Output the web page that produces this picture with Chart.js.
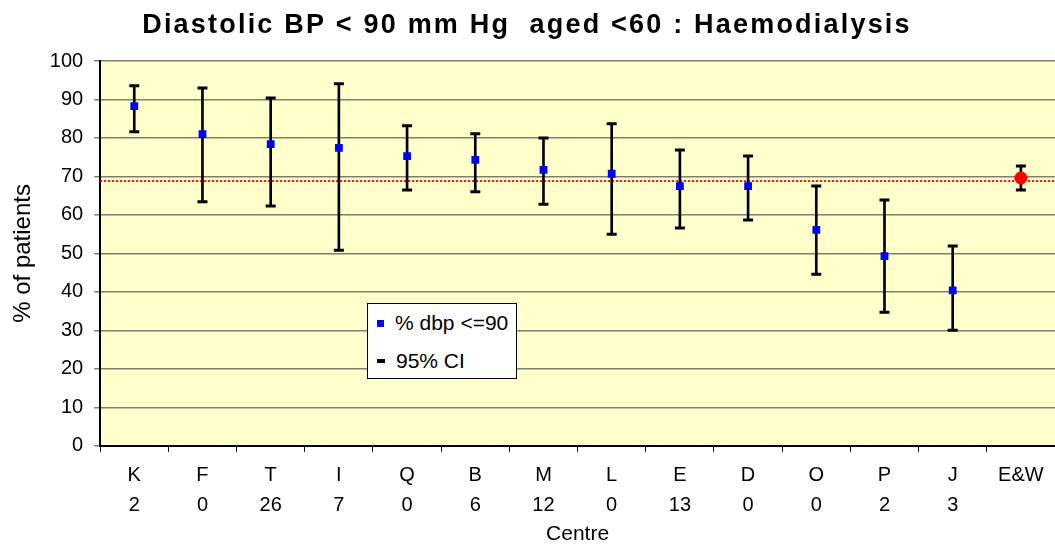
<!DOCTYPE html>
<html>
<head>
<meta charset="utf-8">
<script src="https://cdn.jsdelivr.net/npm/chart.js@4.4.1/dist/chart.umd.min.js"></script>
<style>
  body { margin: 0; background: #fff; }
  #wrap { position: relative; width: 1055px; height: 548px; }
  #legendBox {
    position: absolute; left: 367px; top: 303px; width: 148px; height: 74px;
    background: #fff; border: 1px solid #000;
    font-family: Arial, "Liberation Sans", sans-serif; font-size: 21px; color: #000;
  }
  .item { position: absolute; left: 9px; height: 24px; line-height: 24px; display: flex; align-items: center; white-space: nowrap; }
  .sw { display: inline-block; margin-right: 11px; }
</style>
</head>
<body>
<div id="wrap">
  <canvas id="dbpChart" width="1055" height="548"></canvas>
  <div id="legendBox">
    <div class="item" style="top:7px"><span class="sw" style="width:7px;height:7px;background:#0000ff"></span>% dbp &lt;=90</div>
    <div class="item" style="top:45px"><span class="sw" style="width:8px;height:4px;background:#000"></span>95% CI</div>
  </div>
</div>
<script>
const centres = ['K', 'F', 'T', 'I', 'Q', 'B', 'M', 'L', 'E', 'D', 'O', 'P', 'J', 'E&W'];
const centreCounts = ['2', '0', '26', '7', '0', '6', '12', '0', '13', '0', '0', '2', '3', ''];
const pctDbp = [88.3, 81.0, 78.4, 77.4, 75.3, 74.3, 71.7, 70.7, 67.5, 67.5, 56.1, 49.3, 40.4, 69.6];
const ciLower = [81.6, 63.4, 62.3, 50.8, 66.5, 66.0, 62.8, 55.0, 56.6, 58.7, 44.6, 34.7, 30.0, 66.5];
const ciUpper = [93.6, 93.0, 90.4, 94.1, 83.2, 81.1, 80.0, 83.7, 76.9, 75.3, 67.5, 63.9, 51.9, 72.7];
const nationalAvg = 68.8;
const yTicks = [0, 10, 20, 30, 40, 50, 60, 70, 80, 90, 100];
const chartTitle = 'Diastolic BP < 90 mm Hg  aged <60 : Haemodialysis';

const fontFamily = 'Arial, "Liberation Sans", sans-serif';

const xLabels = centres.map((c, i) => centreCounts[i] ? [c, centreCounts[i]] : [c]);
const ciRanges = ciLower.map((lo, i) => [lo, ciUpper[i]]);
const lastIdx = centres.length - 1;

const plotBackground = {
  id: 'plotBackground',
  beforeDraw(chart) {
    const {ctx, chartArea} = chart;
    ctx.save();
    ctx.fillStyle = '#ffffcc';
    ctx.fillRect(chartArea.left, chartArea.top, chartArea.right - chartArea.left, chartArea.bottom - chartArea.top);
    ctx.restore();
  }
};

const avgLine = {
  id: 'avgLine',
  beforeDatasetsDraw(chart) {
    const {ctx, chartArea, scales} = chart;
    const y = scales.y.getPixelForValue(nationalAvg);
    ctx.save();
    ctx.strokeStyle = '#ff0000';
    ctx.lineWidth = 2;
    ctx.setLineDash([2, 2]);
    ctx.beginPath();
    ctx.moveTo(chartArea.left, y);
    ctx.lineTo(chartArea.right, y);
    ctx.stroke();
    ctx.restore();
  }
};

// title drawn by hand so the letter spacing can be widened
const spacedTitle = {
  id: 'spacedTitle',
  afterDraw(chart) {
    const {ctx} = chart;
    ctx.save();
    ctx.font = 'bold 27px ' + fontFamily;
    ctx.fillStyle = '#000';
    ctx.textAlign = 'center';
    ctx.textBaseline = 'alphabetic';
    if ('letterSpacing' in ctx) ctx.letterSpacing = '2.2px';
    ctx.fillText(chartTitle, 527, 33);
    ctx.restore();
  }
};

new Chart(document.getElementById('dbpChart').getContext('2d'), {
  type: 'bar',
  data: {
    labels: xLabels,
    datasets: [
      {
        type: 'line',
        label: '% dbp <=90',
        data: pctDbp,
        showLine: false,
        pointStyle: pctDbp.map((v, i) => i === lastIdx ? 'circle' : 'rect'),
        pointRadius: pctDbp.map((v, i) => i === lastIdx ? 6.5 : 5.5),
        pointBackgroundColor: pctDbp.map((v, i) => i === lastIdx ? '#ff0000' : '#0000ff'),
        pointBorderWidth: 0,
        order: 1
      },
      {
        type: 'line',
        label: 'upper',
        data: ciUpper,
        showLine: false,
        pointStyle: 'line',
        pointRadius: 5,
        pointBorderWidth: 3,
        pointBorderColor: '#000',
        order: 2
      },
      {
        type: 'line',
        label: 'lower',
        data: ciLower,
        showLine: false,
        pointStyle: 'line',
        pointRadius: 5,
        pointBorderWidth: 3,
        pointBorderColor: '#000',
        order: 2
      },
      {
        label: '95% CI',
        data: ciRanges,
        backgroundColor: '#000',
        borderWidth: 0,
        barThickness: 2,
        order: 3
      }
    ]
  },
  options: {
    responsive: false,
    animation: false,
    layout: { autoPadding: false, padding: { left: 9, right: 0, top: 61, bottom: 1 } },
    plugins: {
      legend: { display: false },
      tooltip: { enabled: false },
      title: { display: false }
    },
    scales: {
      x: {
        offset: true,
        grid: { display: true, offset: true, drawOnChartArea: false, drawTicks: true, tickLength: 6, color: '#000' },
        border: { color: '#000', width: 2 },
        ticks: { color: '#000', font: { family: fontFamily, size: 20, lineHeight: 1.5 }, maxRotation: 0, autoSkip: false, padding: 9 },
        title: { display: true, text: 'Centre', color: '#000', font: { family: fontFamily, size: 21 }, padding: { top: -8, bottom: 0 } }
      },
      y: {
        min: 0,
        max: 100,
        afterBuildTicks(axis) { axis.ticks = yTicks.map(v => ({value: v})); },
        grid: { color: '#7f7f72', lineWidth: 1.5, drawTicks: true, tickLength: 6, tickColor: '#7f7f72' },
        border: { color: '#000', width: 2 },
        ticks: { color: '#000', font: { family: fontFamily, size: 20 }, padding: 11 },
        title: { display: true, text: '% of patients', color: '#000', font: { family: fontFamily, size: 24 }, padding: { top: 0, bottom: 1 } }
      }
    }
  },
  plugins: [plotBackground, avgLine, spacedTitle]
});
</script>
</body>
</html>
